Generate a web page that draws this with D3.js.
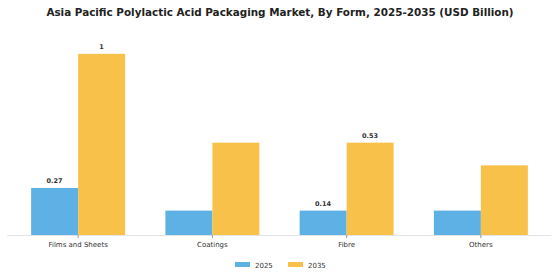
<!DOCTYPE html>
<style>
body { margin: 0; background: #fff; }
text { font-family: "DejaVu Sans", sans-serif; }
.axis path { stroke: #e3e3e3; }
.axis line { stroke: #999; }
.axis text { fill: #333; font-size: 7px; }
</style>
<svg width="560" height="280"></svg>
<script src="https://d3js.org/d3.v7.min.js"></script>
<script>
var categories = ["Films and Sheets", "Coatings", "Fibre", "Others"];
var years = ["2025", "2035"];
var values2025 = [0.27, 0.14, 0.14, 0.14];
var values2035 = [1.04, 0.53, 0.53, 0.40];
var labels2025 = ["0.27", "", "0.14", ""];
var labels2035 = ["1", "", "0.53", ""];
var colors = ["#5DB1E4", "#F8C24A"];

var svg = d3.select("svg"),
    width = +svg.attr("width"),
    height = +svg.attr("height");

var baseY = 235;

var x0 = d3.scaleBand()
    .domain(categories)
    .range([11, 548])
    .paddingInner(0.3)
    .paddingOuter(0.15);

var x1 = d3.scaleBand()
    .domain(years)
    .range([0, x0.bandwidth()]);

var y = d3.scaleLinear()
    .domain([0, 1])
    .range([baseY, baseY - 174.2]);

svg.append("text")
    .attr("x", width / 2)
    .attr("y", 15.5)
    .attr("text-anchor", "middle")
    .style("font-size", "10.4px")
    .style("font-weight", "bold")
    .style("fill", "#222")
    .text("Asia Pacific Polylactic Acid Packaging Market, By Form, 2025-2035 (USD Billion)");

var series = [values2025, values2035];
var labels = [labels2025, labels2035];

years.forEach(function(yr, s) {
  var g = svg.append("g");
  g.selectAll("rect")
      .data(categories)
    .enter().append("rect")
      .attr("x", function(d) { return x0(d) + x1(yr); })
      .attr("y", function(d, i) { return y(series[s][i]); })
      .attr("width", x1.bandwidth())
      .attr("height", function(d, i) { return baseY - y(series[s][i]); })
      .attr("fill", colors[s]);
  g.selectAll("text")
      .data(categories)
    .enter().append("text")
      .attr("x", function(d) { return x0(d) + x1(yr) + x1.bandwidth() / 2; })
      .attr("y", function(d, i) { return y(series[s][i]) - 5; })
      .attr("text-anchor", "middle")
      .style("font-size", "6.5px")
      .style("font-weight", "bold")
      .style("fill", "#333")
      .text(function(d, i) { return labels[s][i]; });
});

var axis = svg.append("g")
    .attr("class", "axis")
    .attr("transform", "translate(0," + baseY + ")")
    .call(d3.axisBottom(x0).tickSize(3).tickSizeOuter(0));
axis.select(".domain").attr("d", "M7,0.5H551");
axis.selectAll("text").attr("dy", "0.9em");

var legend = svg.append("g");
var lx = [235, 288];
years.forEach(function(yr, i) {
  legend.append("rect")
      .attr("x", lx[i])
      .attr("y", 262)
      .attr("width", 15)
      .attr("height", 5)
      .attr("fill", colors[i]);
  legend.append("text")
      .attr("x", lx[i] + 20)
      .attr("y", 267.5)
      .style("font-size", "7px")
      .style("fill", "#333")
      .text(yr);
});
</script>
